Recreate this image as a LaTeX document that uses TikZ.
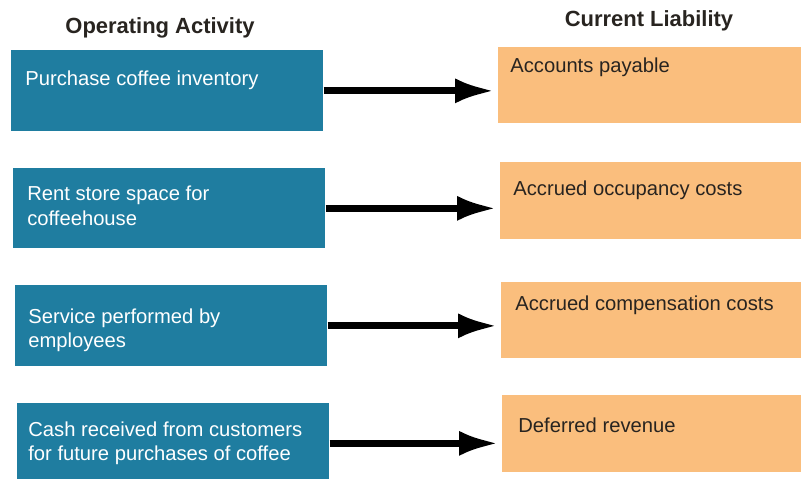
\documentclass[tikz,border=0pt]{standalone}
\usepackage{fontspec}
\setmainfont{Liberation Sans}
\usepackage{xcolor}
\usetikzlibrary{arrows.meta}
\definecolor{actblue}{RGB}{31,125,160}
\definecolor{liaborange}{RGB}{250,190,125}
\definecolor{liabdark}{RGB}{40,36,32}

\tikzset{
 actbox/.style={fill=actblue, anchor=north west, inner sep=0, minimum width=6.24cm},
 liabbox/.style={fill=liaborange, anchor=north west, inner sep=0, minimum width=6.2cm},
 acttext/.style={anchor=north west, inner sep=0, align=left, text=white, font=\fontsize{11.5}{14.2}\selectfont},
 liabtext/.style={anchor=north west, inner sep=0, text=liabdark, font=\fontsize{11.5}{14.2}\selectfont},
 head/.style={anchor=north, inner sep=0, text=liabdark, font=\bfseries\fontsize{12.5}{15}\selectfont},
 flow/.style={-{Latex[length=0.8cm,width=0.5cm]}, line width=4pt, shorten >=0.06cm}
}

\begin{document}
\begin{tikzpicture}[x=0.02cm,y=-0.02cm]
\useasboundingbox (0,0) rectangle (801,478);

%headings:
\node[head] (hact) at (160,17) {Operating Activity};
\node[head] (hliab) at (649,10) {Current Liability};

%operating activities:
\node[actbox, minimum height=1.62cm] (b1) at (11,50) {};
\node[actbox, minimum height=1.60cm] (b2) at (13,168) {};
\node[actbox, minimum height=1.62cm] (b3) at (15,285) {};
\node[actbox, minimum height=1.60cm] (b4) at (17,403) {};

\node[acttext] (tb1) at (25,70) {Purchase coffee inventory};
\node[acttext] (tb2) at (27,186) {Rent store space for\\coffeehouse};
\node[acttext] (tb3) at (28,308) {Service performed by\\employees};
\node[acttext] (tb4) at (28,421) {Cash received from customers\\for future purchases of coffee};

%current liabilities:
\node[liabbox, minimum height=1.52cm] (o1) at (498,47) {};
\node[liabbox, minimum height=1.54cm] (o2) at (500,162) {};
\node[liabbox, minimum height=1.52cm] (o3) at (501,282) {};
\node[liabbox, minimum height=1.54cm] (o4) at (502,395) {};

\node[liabtext] (to1) at (510,57) {Accounts payable};
\node[liabtext] (to2) at (513,180) {Accrued occupancy costs};
\node[liabtext] (to3) at (515,295) {Accrued compensation costs};
\node[liabtext] (to4) at (518,417) {Deferred revenue};

%arrows:
\foreach \i in {1,...,4}{
 \draw[flow] (b\i.east) -- (b\i.east -| o\i.west);
 }

\end{tikzpicture}
\end{document}
